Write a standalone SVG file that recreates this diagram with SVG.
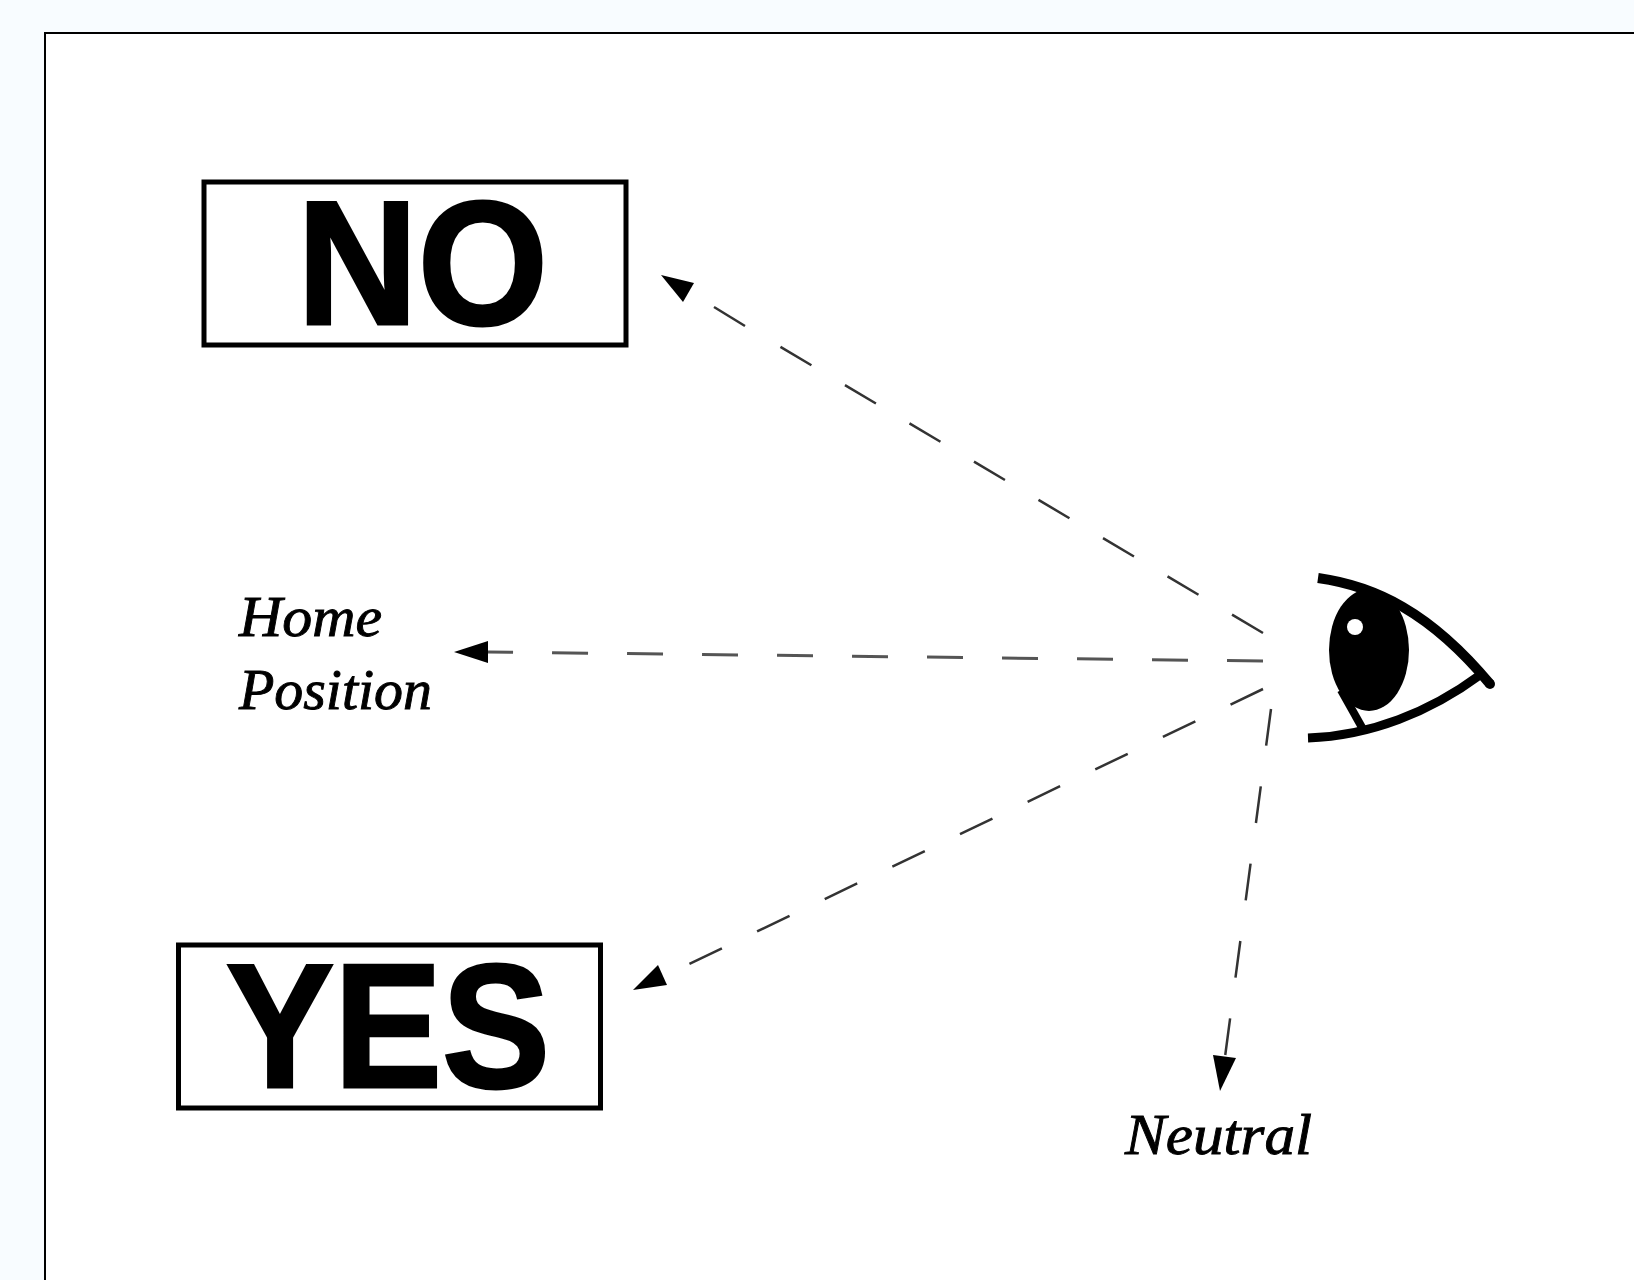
<svg xmlns="http://www.w3.org/2000/svg" width="1634" height="1280" viewBox="0 0 1634 1280">
<style>
.box{fill:#fff;stroke:#000;stroke-width:5}
.big{font-family:"Liberation Sans",Arial,sans-serif;font-weight:700;font-size:176px;fill:#000;stroke:#000;stroke-width:3}
.lab{font-family:"Liberation Serif","Times New Roman",serif;font-style:italic;font-size:57px;fill:#000;stroke:#000;stroke-width:.9}
.dash{fill:none;stroke:#333;stroke-width:2.5;stroke-dasharray:36 39}
.head{fill:#000}
.lid{fill:none;stroke:#000}
</style>
<rect x="0" y="0" width="1634" height="1280" fill="#f8fcff"/>
<rect x="45" y="33" width="1700" height="1400" fill="#fff" stroke="#000" stroke-width="2"/>
<g id="connectors">
<path class="dash" d="M1263 633L752 330"/>
<path class="dash" style="stroke-dasharray:none" d="M745 326L714 307"/>
<path class="head" d="M661 275L694 283L683 302Z"/>
<path class="dash" style="stroke:#555;stroke-width:3" d="M1263 661L488 652"/>
<path class="head" d="M454 652L488 641L488 663Z"/>
<path class="dash" d="M1263 689L662 977"/>
<path class="head" d="M633 990L658 965L667 985Z"/>
<path class="dash" style="stroke-dasharray:37 41" d="M1271 709L1225 1057"/>
<path class="head" d="M1220 1091L1213 1055L1236 1058Z"/>
</g>
<g id="node-no">
<rect class="box" x="204" y="182" width="422" height="163"/>
<text class="big" x="297" y="324" textLength="251" lengthAdjust="spacingAndGlyphs">NO</text>
</g>
<g id="node-yes">
<rect class="box" x="178.500" y="945" width="422" height="163"/>
<text class="big" x="226" y="1087" textLength="324" lengthAdjust="spacingAndGlyphs">YES</text>
</g>
<g id="node-home">
<text class="lab" x="239" y="636" textLength="143" lengthAdjust="spacingAndGlyphs">Home</text>
<text class="lab" x="239" y="709" textLength="193" lengthAdjust="spacingAndGlyphs">Position</text>
</g>
<g id="node-neutral">
<text class="lab" x="1125" y="1154" textLength="187" lengthAdjust="spacingAndGlyphs">Neutral</text>
</g>
<g id="node-eye">
<ellipse cx="1369" cy="650" rx="40" ry="61" fill="#000"/>
<circle cx="1355" cy="627" r="8" fill="#fff"/>
<path class="lid" stroke-width="10" d="M1318 578C1375 586 1430 612 1490 684"/>
<circle cx="1490" cy="684" r="5" fill="#000"/>
<path class="lid" stroke-width="9" d="M1308 738C1370 736 1430 712 1480 675"/>
<path class="lid" stroke-width="8" d="M1341 690L1364 731"/>
</g>
</svg>
